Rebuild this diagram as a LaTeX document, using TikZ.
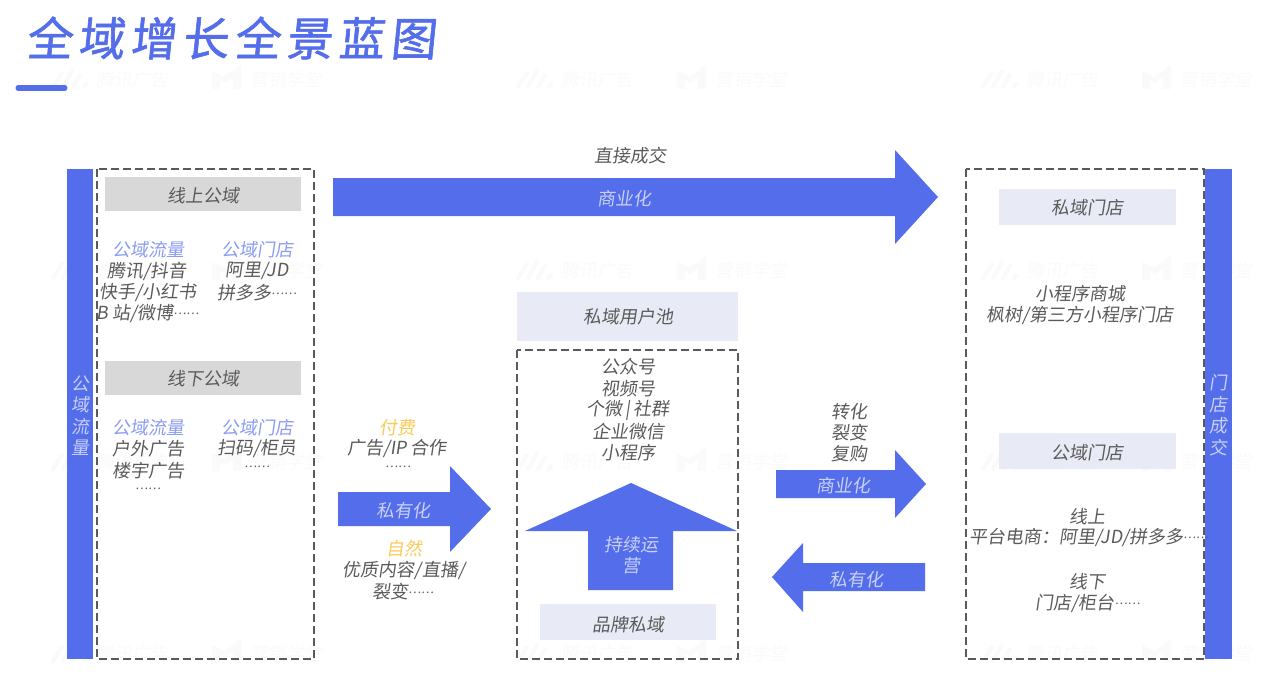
\documentclass[tikz,border=0pt]{standalone}
\usepackage{fontspec}
\setmainfont{Noto Sans CJK SC}[FakeSlant=0.15]
\newfontfamily\titlefont{Noto Sans CJK SC}[FakeBold=1.3,FakeSlant=0.1,LetterSpace=13]
\newcommand{\dotsrun}{\raisebox{0.3em}{\fontsize{12}{12}\selectfont ……}}
\definecolor{brand}{HTML}{546DEB}
\definecolor{ink}{HTML}{5A5A5A}
\definecolor{pale}{HTML}{E8EBF5}
\definecolor{greybar}{HTML}{D8D8D8}
\definecolor{sky}{HTML}{8A9BF3}
\definecolor{amber}{HTML}{FBCB57}
\definecolor{lilac}{HTML}{C9D1F7}
\definecolor{wm}{HTML}{FAFAFA}
\tikzset{
  txt/.style={font=\fontsize{18}{20}\selectfont,text=ink,inner sep=0pt,anchor=center,yshift=-1pt},
  bluetxt/.style={txt,text=sky},
  ambertxt/.style={txt,text=amber},
  ontxt/.style={txt,text=lilac},
  dashbox/.style={draw=ink,dashed,dash pattern=on 8pt off 4pt,line width=1.5pt},
  wmk/.style={font=\fontsize{18}{20}\selectfont,text=wm,inner sep=0pt},
}
\newcommand{\watermark}[2]{%
  \node[wmk,anchor=west] (wa#1#2) at (#1+46,#2) {腾讯广告};
  \node[wmk,anchor=west] (wb#1#2) at (#1+200,#2) {营销学堂};
  \draw[wm,line width=4pt,line cap=round] (#1+3,#2+7) -- (#1+12,#2-7) (#1+13,#2+7) -- (#1+22,#2-9) (#1+23,#2+7) -- (#1+30,#2-5) (#1+34,#2+7) -- (#1+36,#2+4);
  \fill[wm] (#1+162,#2-9) -- (#1+174,#2-3) -- (#1+191,#2-15) -- (#1+191,#2+9) -- (#1+183,#2+9) -- (#1+183,#2-3) -- (#1+175,#2+3) -- (#1+170,#2) -- (#1+170,#2+9) -- (#1+162,#2+9) -- cycle;
}
\begin{document}
\begin{tikzpicture}[x=1pt,y=-1pt]
\useasboundingbox (0,0) rectangle (1280,693);
\fill[white] (0,0) rectangle (1280,693);
% watermarks
\foreach \wx in {50,515,980}{\foreach \wy in {80,271,462,654}{\watermark{\wx}{\wy}}}
% title
\node[inner sep=0pt,text=brand,anchor=west,font=\titlefont\fontsize{46}{50}\selectfont] (title) at (26,38) {全域增长全景蓝图};
\draw[brand,line width=5pt,line cap=round] (18,88) -- (65,88);
% side bars
\fill[brand] (67,169) rectangle (93,659);
\fill[brand] (1205,169) rectangle (1232,659);
\node[ontxt] (l1) at (80,383) {公}; \node[ontxt] (l2) at (80,404) {域}; \node[ontxt] (l3) at (80,426) {流}; \node[ontxt] (l4) at (80,447) {量};
\node[ontxt] (r1) at (1218,382) {门}; \node[ontxt] (r2) at (1218,404) {店}; \node[ontxt] (r3) at (1218,425) {成}; \node[ontxt] (r4) at (1218,447) {交};
% dashed boxes
\draw[dashbox] (97,169) rectangle (314,659);
\draw[dashbox] (517,350) rectangle (738,659);
\draw[dashbox] (966,169) rectangle (1204,659);
% bars
\fill[greybar] (105,177) rectangle (301,211);
\fill[greybar] (105,361) rectangle (301,395);
\fill[pale] (517,292) rectangle (738,341);
\fill[pale] (540,604) rectangle (716,640);
\fill[pale] (999,189) rectangle (1176,225);
\fill[pale] (999,433) rectangle (1176,469);
% arrows
\fill[brand] (333,178) -- (895,178) -- (895,150) -- (938,197) -- (895,244) -- (895,216) -- (333,216) -- cycle;
\fill[brand] (338,492) -- (450,492) -- (450,466) -- (491,509) -- (450,552) -- (450,526) -- (338,526) -- cycle;
\fill[brand] (776,470) -- (895,470) -- (895,450) -- (926,484) -- (895,518) -- (895,498) -- (776,498) -- cycle;
\fill[brand] (925,563) -- (803,563) -- (803,543) -- (772,577) -- (803,612) -- (803,591) -- (925,591) -- cycle;
\fill[brand] (631,483) -- (737,531) -- (673,531) -- (673,590) -- (588,590) -- (588,531) -- (525,531) -- cycle;
% box labels
\node[txt] (a1) at (203,195) {线上公域};
\node[txt] (a2) at (203,378) {线下公域};
\node[txt] (a3) at (628,316) {私域用户池};
\node[txt] (a4) at (628,624) {品牌私域};
\node[txt] (a5) at (1087,207) {私域门店};
\node[txt] (a6) at (1087,452) {公域门店};
% arrow labels
\node[txt] (b0) at (630,155) {直接成交};
\node[ontxt] (b1) at (624,198) {商业化};
\node[ontxt] (b2) at (403,510) {私有化};
\node[ontxt] (b3) at (631,544) {持续运};
\node[ontxt] (b4) at (631,565) {营};
\node[ontxt] (b5) at (843,485) {商业化};
\node[ontxt] (b6) at (856,579) {私有化};
% upper left lists
\node[bluetxt] (c1) at (148,249) {公域流量};
\node[txt] (c2) at (147,270) {腾讯/抖音};
\node[txt] (c3) at (148,292) {快手/小红书};
\node[txt] (c4) at (148,313) {B 站/微博\dotsrun};
\node[bluetxt] (c5) at (257,249) {公域门店};
\node[txt] (c6) at (257,270) {阿里/JD};
\node[txt] (c7) at (257,292) {拼多多\dotsrun};
% lower left lists
\node[bluetxt] (d1) at (148,427) {公域流量};
\node[txt] (d2) at (148,448) {户外广告};
\node[txt] (d3) at (148,470) {楼宇广告};
\node[txt] (d4) at (148,490) {\dotsrun};
\node[bluetxt] (d5) at (257,427) {公域门店};
\node[txt] (d6) at (257,448) {扫码/柜员};
\node[txt] (d7) at (257,468) {\dotsrun};
% channel notes
\node[ambertxt] (e1) at (397,427) {付费};
\node[txt] (e2) at (397,448) {广告/IP 合作};
\node[txt] (e3) at (398,468) {\dotsrun};
\node[ambertxt] (e4) at (404,548) {自然};
\node[txt] (e5) at (404,569) {优质内容/直播/};
\node[txt] (e6) at (403,591) {裂变\dotsrun};
% private pool list
\node[txt] (f1) at (628,366) {公众号};
\node[txt] (f2) at (628,388) {视频号};
\node[txt] (f3) at (628,409) {个微\,|\,社群};
\node[txt] (f4) at (628,431) {企业微信};
\node[txt] (f5) at (628,452) {小程序};
% conversion
\node[txt] (g1) at (849,411) {转化};
\node[txt] (g2) at (849,432) {裂变};
\node[txt] (g3) at (849,453) {复购};
% right lists
\node[txt] (h1) at (1080,293) {小程序商城};
\node[txt] (h2) at (1080,314) {枫树/第三方小程序门店};
\node[txt] (h3) at (1087,516) {线上};
\node[txt] (h4) at (1089,537) {平台电商：阿里/JD/拼多多\dotsrun};
\node[txt] (h5) at (1087,581) {线下};
\node[txt] (h6) at (1088,603) {门店/柜台\dotsrun};
\end{tikzpicture}
\end{document}
